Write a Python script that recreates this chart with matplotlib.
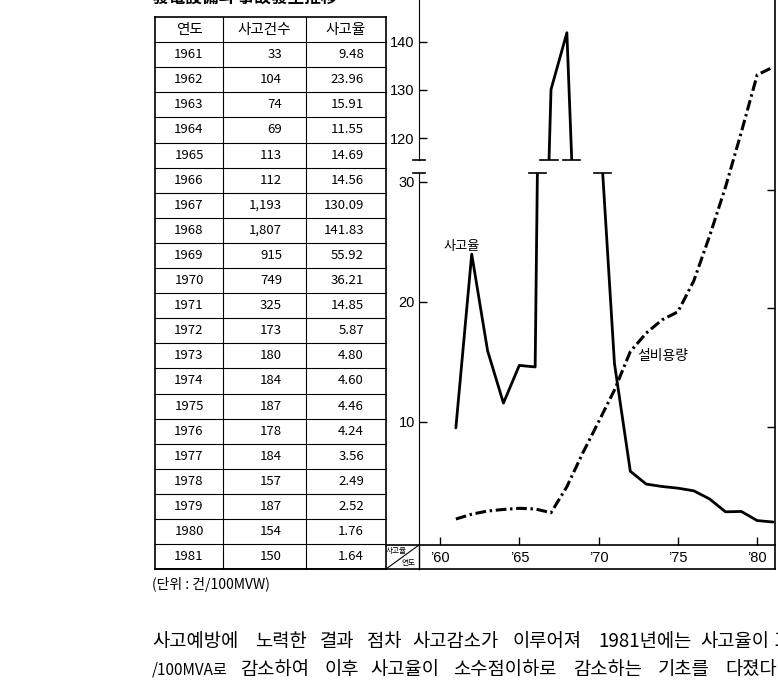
import matplotlib
matplotlib.use("Agg")
import matplotlib.pyplot as plt
import numpy as np

plt.rcParams['font.family'] = ['Noto Sans CJK KR', 'DejaVu Sans']

years = list(range(1961, 1982))
counts = [33, 104, 74, 69, 113, 112, 1193, 1807, 915, 749, 325,
          173, 180, 184, 187, 178, 184, 157, 187, 154, 150]
rates = [9.48, 23.96, 15.91, 11.55, 14.69, 14.56, 130.09, 141.83, 55.92, 36.21, 14.85,
         5.87, 4.80, 4.60, 4.46, 4.24, 3.56, 2.49, 2.52, 1.76, 1.64]
# 설비용량 (MW, estimated from curve; right axis labels are cut off)
capacity = [548, 650, 717, 750, 774, 760, 682, 1230, 1940, 2600, 3270,
            4080, 4470, 4750, 4920, 5570, 6520, 7550, 8710, 9920, 10080]

headers = ['연도', '사고건수', '사고율']
xtick_years = [1960, 1965, 1970, 1975, 1980]
xtick_labels = ["\u201960", "\u201965", "\u201970", "\u201975", "\u201980"]
low_ticks = [10, 20, 30]
up_ticks = [120, 130, 140]
cap_ticks = [2500, 5000, 7500]

title = '發電設備의 事故發生推移'
unit_note = '(단위 : 건/100MVW)'
body1 = ['사고예방에', '노력한', '결과', '점차', '사고감소가', '이루어져', '1981년에는', '사고율이', '1.']
body1_x = [152, 255, 320, 367, 412, 513, 598, 700, 773]
body2 = ['/100MVA로', '감소하여', '이후', '사고율이', '소수점이하로', '감소하는', '기초를', '다졌다.']
body2_x = [152, 240, 325, 370, 453, 573, 658, 725]

# layout in pixels
W, H = 778, 696
def box(l, t, r, b):
    return [l / W, 1 - b / H, (r - l) / W, (b - t) / H]

tab_l, tab_c1, tab_c2, tab_r = 155, 223, 306, 386
tab_top, row_h = 17, 25.1
axis_x, frame_r = 419, 775
base_y, bottom_y = 545, 569
brk_up, brk_low = 160, 173
px_per_year = 15.86
x0_px = 440  # 1960
xlim = (1960 - (x0_px - axis_x) / px_per_year, 1960 + (frame_r - x0_px) / px_per_year)

fig = plt.figure(figsize=(W / 100, H / 100), dpi=100)

bg = fig.add_axes([0, 0, 1, 1])
bg.set_xlim(0, W)
bg.set_ylim(H, 0)
bg.axis('off')

# ---- table
n_rows = len(years) + 1
for i in range(n_rows + 1):
    y = tab_top + i * row_h
    lw = 1.2 if i in (0, n_rows) else 0.8
    bg.plot([tab_l, tab_r], [y, y], color='black', lw=lw)
tab_bot = tab_top + n_rows * row_h
for x, lw in [(tab_l, 1.2), (tab_c1, 0.8), (tab_c2, 0.8), (tab_r, 1.2)]:
    bg.plot([x, x], [tab_top, tab_bot], color='black', lw=lw)

for x, h in zip([(tab_l + tab_c1) / 2, (tab_c1 + tab_c2) / 2, (tab_c2 + tab_r) / 2], headers):
    bg.text(x, tab_top + row_h / 2, h, ha='center', va='center', fontsize=10.5, fontweight='medium')
for i, (yr, c, r) in enumerate(zip(years, counts, rates)):
    yc = tab_top + (i + 1.5) * row_h
    bg.text((tab_l + tab_c1) / 2, yc, str(yr), ha='center', va='center', fontsize=9.5)
    bg.text(282, yc, f'{c:,}', ha='right', va='center', fontsize=9.5)
    bg.text(364, yc, f'{r:.2f}', ha='right', va='center', fontsize=9.5)

# ---- chart frame
bg.plot([tab_r, frame_r], [base_y, base_y], color='black', lw=1.2)
bg.plot([tab_l, frame_r], [bottom_y, bottom_y], color='black', lw=1.2)
bg.plot([frame_r, frame_r], [0, bottom_y], color='black', lw=1.2)
bg.plot([axis_x, axis_x], [base_y, bottom_y], color='black', lw=1.0)
bg.plot([tab_r, axis_x], [bottom_y, base_y], color='black', lw=0.8)
bg.text(396, 551, '사고율', ha='center', va='center', fontsize=5.5)
bg.text(409, 563, '연도', ha='center', va='center', fontsize=5.5)

# ---- broken axis: lower, upper, and capacity overlay
ax_low = fig.add_axes(box(axis_x, brk_low, frame_r, base_y))
ax_low.set_xlim(*xlim)
ax_low.set_ylim(-0.275, 30.72)
ax_up = fig.add_axes(box(axis_x, 0, frame_r, brk_up))
ax_up.set_xlim(*xlim)
ax_up.set_ylim(115.5, 148.6)
ax_cap = fig.add_axes(box(axis_x, 0, frame_r, base_y))
ax_cap.set_xlim(*xlim)
ax_cap.set_ylim(0, base_y / 118.5 * 2500)

for ax in (ax_low, ax_up, ax_cap):
    ax.set_facecolor('none')
    for s in ax.spines.values():
        s.set_visible(False)
ax_low.spines['left'].set_visible(True)
ax_up.spines['left'].set_visible(True)

ax_low.plot(years, rates, color='black', lw=2.0, solid_capstyle='round', solid_joinstyle='round')
ax_up.plot(years, rates, color='black', lw=2.0, solid_capstyle='round', solid_joinstyle='round')
ax_cap.plot(years, capacity, color='black', lw=2.2, linestyle=(0, (3.5, 1.2, 0.8, 1.2)))

ax_low.set_yticks(low_ticks)
ax_up.set_yticks(up_ticks)
for ax in (ax_low, ax_up):
    ax.tick_params(axis='y', direction='in', length=6, width=1, labelsize=10.5, pad=3)
    for lab in ax.get_yticklabels():
        lab.set_family('Liberation Sans')
ax_up.set_xticks([])
ax_low.set_xticks(xtick_years)
ax_low.set_xticklabels(xtick_labels, fontsize=10.5, family='Liberation Sans')
ax_low.tick_params(axis='x', direction='in', length=6, width=1, pad=4)

ax_cap.set_xticks([])
ax_cap.yaxis.tick_right()
ax_cap.set_yticks(cap_ticks)
ax_cap.set_yticklabels([])
ax_cap.tick_params(axis='y', direction='in', length=6, width=1)

# break marks on the axis and on the curve
low_top = ax_low.get_ylim()[1]
up_bot = ax_up.get_ylim()[0]
for ax, lev in ((ax_low, low_top), (ax_up, up_bot)):
    ax.plot([-0.017, 0.017], [lev, lev], color='black', lw=1.2, clip_on=False,
            transform=ax.get_yaxis_transform())
    for (xa, ya), (xb, yb) in zip(zip(years[:-1], rates[:-1]), zip(years[1:], rates[1:])):
        if (ya - lev) * (yb - lev) < 0:
            xc = xa + (lev - ya) / (yb - ya) * (xb - xa)
            ax.plot([xc - 0.55, xc + 0.55], [lev, lev], color='black', lw=1.2, clip_on=False)

ax_low.text(1961.4, 24.6, '사고율', ha='center', va='center', fontsize=9.5)
ax_low.text(1974.06, 15.5, '설비용량', ha='center', va='center', fontsize=10)

# ---- texts around
bg.text(152, 3, title, fontsize=12, fontweight='bold', va='baseline', ha='left')
bg.text(152, 585, unit_note, fontsize=10, va='center', ha='left')
for w, x in zip(body1, body1_x):
    bg.text(x, 641, w, fontsize=13.5, va='center', ha='left')
for w, x in zip(body2, body2_x):
    bg.text(x, 670, w, fontsize=11 if w.startswith('/') else 13.5, va='center', ha='left')

fig.savefig('out.png', dpi=100)
